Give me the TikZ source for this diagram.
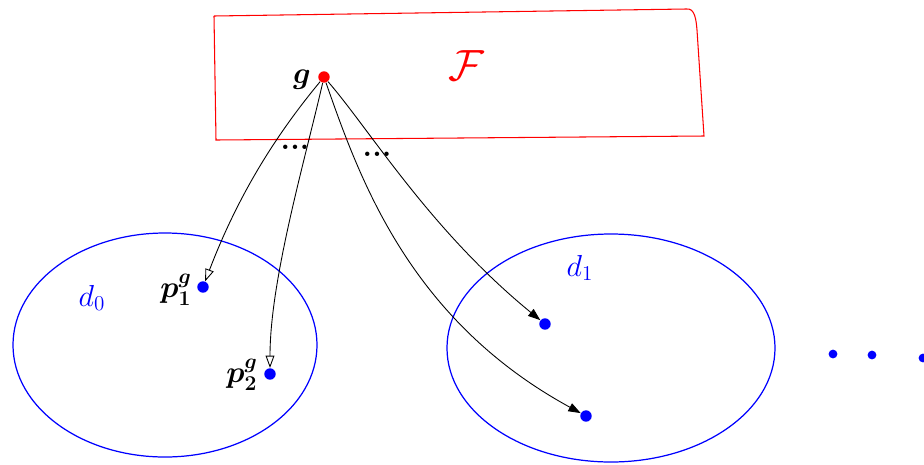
\documentclass[tikz,border=0pt]{standalone}
\usepackage{amsmath,amssymb,bm}
\usetikzlibrary{arrows.meta}
\begin{document}
\begin{tikzpicture}[x=0.02cm,y=-0.02cm,
  redline/.style={draw=red,line width=0.6pt},
  blueline/.style={draw=blue,line width=0.7pt},
  reddot/.style={circle,fill=red,inner sep=0pt,minimum size=6.5pt},
  bluedot/.style={circle,fill=blue,inner sep=0pt,minimum size=6.5pt},
  lbl/.style={font=\LARGE,inner sep=0pt},
  conn/.style={draw=black,line width=0.5pt},
  openarr/.style={conn,-{Triangle[open,length=7pt,width=5pt]}},
  fillarr/.style={conn,-{Triangle[length=7pt,width=5pt]}},
  ellip/.style={font=\LARGE\bfseries,inner sep=0pt}]
\useasboundingbox (0,0) rectangle (924,464);
% red box
\draw[redline] (214,16) -- (686,9) to[out=10,in=95] (697,30) -- (704,136) -- (216,140) -- (214,16);
\node[text=red,font=\Huge,inner sep=0pt] (F) at (466,66) {$\mathcal{F}$};
% sets
\draw[blueline] (165,345) ellipse [x radius=152,y radius=112];
\draw[blueline] (611,348) ellipse [x radius=164,y radius=114];
\node[text=blue,font=\LARGE,inner sep=0pt] (d0) at (92,298) {$d_0$};
\node[text=blue,font=\LARGE,inner sep=0pt] (d1) at (580,268) {$d_1$};
% points
\node[reddot] (g) at (324,77) {};
\node[lbl] (gl) at (302,80) {$\bm{g}$};
\node[bluedot] (p1) at (203,287) {};
\node[bluedot] (p2) at (270,374) {};
\node[bluedot] (q1) at (545,324) {};
\node[bluedot] (q2) at (586,416) {};
\node[lbl] (p1l) at (176,290) {$\bm{p_1^g}$};
\node[lbl] (p2l) at (242,375) {$\bm{p_2^g}$};
% arrows
\draw[openarr] (g) .. controls (280,130) and (240,190) .. (p1);
\draw[openarr] (g) .. controls (305,160) and (270,280) .. (p2);
\draw[fillarr] (g) .. controls (370,130) and (430,230) .. (q1);
\draw[fillarr] (g) .. controls (360,180) and (410,320) .. (q2);
% ellipses
\node[ellip] (e1) at (295,147) {...};
\node[ellip] (e2) at (377,154) {...};
\node[bluedot,minimum size=5pt] (r1) at (833,354) {};
\node[bluedot,minimum size=5pt] (r2) at (872,355) {};
\node[bluedot,minimum size=5pt] (r3) at (923,358) {};
\end{tikzpicture}
\end{document}
